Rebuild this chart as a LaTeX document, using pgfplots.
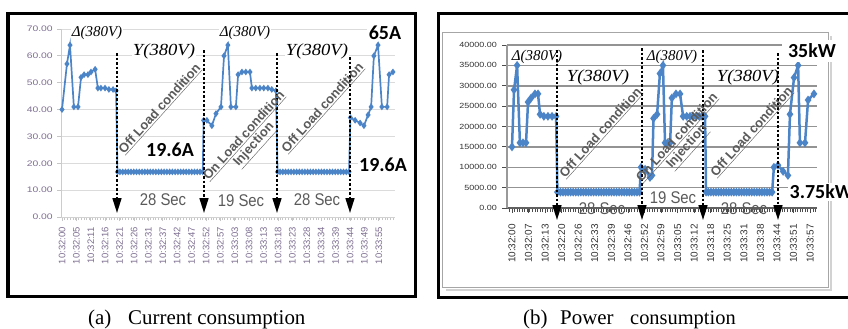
\documentclass[border=0pt]{standalone}
\usepackage{fontspec}
\setmainfont{Liberation Serif}
\setsansfont{Liberation Sans}
\newfontfamily\carlito{Carlito}
\usepackage{pgfplots}
\pgfplotsset{compat=1.18}
\usetikzlibrary{arrows.meta}
\definecolor{lineblue}{RGB}{76,132,200}
\definecolor{ticka}{RGB}{125,110,145}
\definecolor{tickb}{RGB}{50,50,50}
\definecolor{annot}{RGB}{90,90,90}
\newcommand{\fsz}[1]{\fontsize{#1}{#1}\selectfont}
\begin{document}
\begin{tikzpicture}
\useasboundingbox (0,0) rectangle (848bp,-329bp);
\begin{scope}[x=1bp,y=-1bp]
\draw[line width=3bp] (8,13) rectangle (415,296);
\draw[line width=3bp] (438,13) rectangle (860,297);
\draw[gray!35, line width=2.5bp] (831,36) -- (831,290) -- (446,290);
\draw[gray!70, line width=1bp] (442,32) rectangle (828,287);
\end{scope}

% ---------- (a) current ----------
\begin{axis}[
 at={(61bp,-217bp)}, anchor=south west, scale only axis,
 width=334bp, height=188bp,
 xmin=-0.36, xmax=120.65, ymin=0, ymax=70,
 clip=false,
 axis x line*=bottom, axis y line*=left,
 x axis line style={draw=gray!35, line width=1bp},
 y axis line style={draw=gray!40, line width=1bp},
 ytick={0,10,...,70},
 yticklabels={0.00,10.00,20.00,30.00,40.00,50.00,60.00,70.00},
 xtick={0,5.2174,...,115.5},
 xticklabels={10:32:00,10:32:05,10:32:11,10:32:16,10:32:21,10:32:26,10:32:31,10:32:37,10:32:42,10:32:47,10:32:52,10:32:57,10:33:03,10:33:08,10:33:13,10:33:18,10:33:23,10:33:28,10:33:34,10:33:39,10:33:44,10:33:49,10:33:55},
 minor xtick={1,2,...,120},
 ymajorgrids, grid style={gray!28, line width=1bp},
 tick style={gray!45, line width=0.8bp},
 tick align=outside, major tick length=4bp, minor tick length=3bp,
 yticklabel style={font=\sffamily\fsz{8}, text=ticka, xscale=1.3, inner sep=0pt},
 yticklabel shift=4bp,
 xticklabel style={font=\sffamily\fsz{9.5}, text=ticka, rotate=90, anchor=east, inner sep=0pt},
 xticklabel shift=6bp,
]
\addplot[lineblue, line width=1.7bp, mark=diamond*, mark size=2bp] coordinates {
(0,40) (1.8,57) (2.9,64) (4.3,41) (5.8,41) (6.9,52) (8,53) (9.4,53) (10.5,54) (12,55) (13,48) (14.1,48) (15.6,48) (17,47.5) (18.5,47.5) (19.6,47)
(20.1,16.8) (21,16.8) (22,16.8) (23,16.8) (24,16.8) (25,16.8) (26,16.8) (27,16.8) (28,16.8) (29,16.8) (30,16.8) (31,16.8) (32,16.8) (33,16.8) (34,16.8) (35,16.8) (36,16.8) (37,16.8) (38,16.8) (39,16.8) (40,16.8) (41,16.8) (42,16.8) (43,16.8) (44,16.8) (45,16.8) (46,16.8) (47,16.8) (48,16.8) (49,16.8) (50,16.8) (51,16.8)
(51.3,36) (52.5,36) (54.3,34) (55.8,38.5) (57.6,41) (58.7,60) (60.1,64) (61.2,41) (63,41) (63.8,53) (65.2,54) (66.6,54) (68.1,54) (68.8,48) (70.2,48) (71.7,48) (73.1,48) (74.6,48) (76,47.5) (77.5,47)
(78.1,16.8) (79,16.8) (80,16.8) (81,16.8) (82,16.8) (83,16.8) (84,16.8) (85,16.8) (86,16.8) (87,16.8) (88,16.8) (89,16.8) (90,16.8) (91,16.8) (92,16.8) (93,16.8) (94,16.8) (95,16.8) (96,16.8) (97,16.8) (98,16.8) (99,16.8) (100,16.8) (101,16.8) (102,16.8) (103,16.8) (104,16.8)
(104.5,37) (106.2,36) (108,35) (109.4,34) (110.9,38) (112,41) (113,60) (114.5,64) (115.9,41) (117.8,41) (118.5,53) (119.9,54)
};
\end{axis}

% ---------- (b) power ----------
\begin{axis}[
 at={(507bp,-208bp)}, anchor=south west, scale only axis,
 width=310bp, height=163bp,
 xmin=-1.96, xmax=119.6, ymin=0, ymax=40000,
 clip=false, scaled y ticks=false,
 axis x line*=bottom, axis y line*=left,
 x axis line style={draw=gray!75!black, line width=1.5bp},
 y axis line style={draw=gray!80, line width=1.2bp},
 ytick={0,5000,...,40000},
 yticklabels={0.00,5000.00,10000.00,15000.00,20000.00,25000.00,30000.00,35000.00,40000.00},
 xtick={0,6.4935,...,117.5},
 xticklabels={10:32:00,10:32:07,10:32:13,10:32:20,10:32:26,10:32:33,10:32:39,10:32:46,10:32:52,10:32:59,10:33:05,10:33:12,10:33:18,10:33:25,10:33:31,10:33:38,10:33:44,10:33:51,10:33:57},
 minor xtick={-1,0,...,119},
 ymajorgrids, grid style={gray!85, line width=1.5bp},
 tick style={gray!60!black, line width=0.8bp},
 tick align=outside, major tick length=5bp, minor tick length=4bp,
 yticklabel style={font=\sffamily\fsz{7.5}, text=tickb, xscale=1.2, inner sep=0pt},
 yticklabel shift=5bp,
 xticklabel style={font=\sffamily\fsz{10}, text=tickb, rotate=90, anchor=east, inner sep=0pt},
 xticklabel shift=11bp,
]
\addplot[lineblue, line width=2.5bp, mark=diamond*, mark size=2.4bp] coordinates {
(0,15000) (0.8,29000) (2,35000) (3.1,16000) (4.3,16000) (5.5,16000) (6.3,26000) (7.5,27000) (9,28000) (10.2,28000) (11,23000) (12.5,22500) (14.1,22500) (15.7,22500) (17.3,22500)
(17.8,3900) (19,3900) (20,3900) (21,3900) (22,3900) (23,3900) (24,3900) (25,3900) (26,3900) (27,3900) (28,3900) (29,3900) (30,3900) (31,3900) (32,3900) (33,3900) (34,3900) (35,3900) (36,3900) (37,3900) (38,3900) (39,3900) (40,3900) (41,3900) (42,3900) (43,3900) (44,3900) (45,3900) (46,3900) (47,3900) (48,3900) (49,3900) (50,3900)
(50.6,10000) (52.2,9500) (54.1,7500) (54.9,8000) (55.5,22000) (56.9,23000) (58,33000) (59.2,35000) (60,16000) (61,16000) (62,16000) (62.7,27000) (64.3,28000) (65.9,28000) (67.1,22500) (68.5,22500) (69.8,22500) (71,22500) (72.2,22500) (73.4,22500) (74.5,22500) (75.7,22500)
(76.1,3900) (77,3900) (78,3900) (79,3900) (80,3900) (81,3900) (82,3900) (83,3900) (84,3900) (85,3900) (86,3900) (87,3900) (88,3900) (89,3900) (90,3900) (91,3900) (92,3900) (93,3900) (94,3900) (95,3900) (96,3900) (97,3900) (98,3900) (99,3900) (100,3900) (101,3900) (102,3900)
(102.7,10000) (104.3,10500) (106.3,9000) (108.2,8000) (109,23000) (110.6,32000) (112.2,35000) (112.9,16000) (114.9,16000) (116.1,26500) (118.4,28000)
};
\end{axis}

% ---------- annotations ----------
\begin{scope}[x=1bp,y=-1bp]
\tikzset{darr/.style={black, line width=1.6bp, dash pattern=on 2.5bp off 2bp, -{Triangle[length=15bp,width=9bp]}}}
\draw[darr] (117,53) -- (117,213);
\draw[darr] (204,50) -- (204,213);
\draw[darr] (277,53) -- (277,213);
\draw[darr] (350,57) -- (350,213);
\draw[darr] (557,50) -- (557,220);
\draw[darr] (642,48) -- (642,220);
\draw[darr] (703,50) -- (703,220);
\draw[darr] (778,53) -- (778,220);

\tikzset{dl/.style={font=\itshape\fsz{15}, inner sep=1bp},
 yl/.style={font=\itshape\fsz{17}, xscale=1.1, inner sep=1bp},
 big/.style={font=\carlito\bfseries\fsz{20}, inner sep=1.5bp, fill=white},
 sec/.style={font=\sffamily\fsz{17}, xscale=0.88, inner sep=1bp},
 rot/.style={rotate=48, font=\sffamily\bfseries\fsz{13}, text=annot, inner sep=1bp, align=center}}

% (a)
\node[dl, fill=white] at (97,33) {Δ(380V)};
\node[dl, fill=white] at (245,33) {Δ(380V)};
\node[yl, fill=white] at (164,51) {Y(380V)};
\node[yl, fill=white] at (317,51) {Y(380V)};
\node[big] at (385,33) {65A};
\node[big] at (170,150) {19.6A};
\node[big] at (383,165) {19.6A};
\node[sec, text=annot] at (163,200) {28 Sec};
\node[sec, text=annot] at (241,201) {19 Sec};
\node[sec, text=annot] at (317,200) {28 Sec};
\node[rot] at (160,109) {\underline{Off Load condition}};
\node[rot] at (250,141) {\underline{On Load condition}\\\underline{Injection}};
\node[rot] at (323,108) {\underline{Off Load condition}};

% (b)
\node[dl] at (537,57) {Δ(380V)};
\node[dl] at (672,57) {Δ(380V)};
\node[yl] at (598,77) {Y(380V)};
\node[yl] at (748,77) {Y(380V)};
\node[big, inner xsep=6bp, inner ysep=4bp] at (812,51) {35kW};
\node[big, anchor=west] at (788,192) {3.75kW};
\node[sec, text=annot] at (602,209) {28 Sec};
\node[sec, text=annot, fill=white] at (673,198) {19 Sec};
\node[sec, text=annot] at (744,209) {28 Sec};
\node[rot] at (601,133) {\underline{Off Load condition}};
\node[rot] at (683,143) {\underline{On Load condition}\\\underline{Injection}};
\node[rot] at (752,132) {\underline{Off Load condition}};

% captions
\node[anchor=base west, font=\fsz{21}, inner sep=0pt] at (88,324) {(a)};
\node[anchor=base west, font=\fsz{21}, inner sep=0pt] at (128,324) {Current consumption};
\node[anchor=base west, font=\fsz{21}, inner sep=0pt] at (523,324) {(b)};
\node[anchor=base west, font=\fsz{21}, inner sep=0pt] at (560,324) {Power};
\node[anchor=base west, font=\fsz{20.5}, inner sep=0pt] at (630,324) {consumption};
\end{scope}
\end{tikzpicture}
\end{document}
